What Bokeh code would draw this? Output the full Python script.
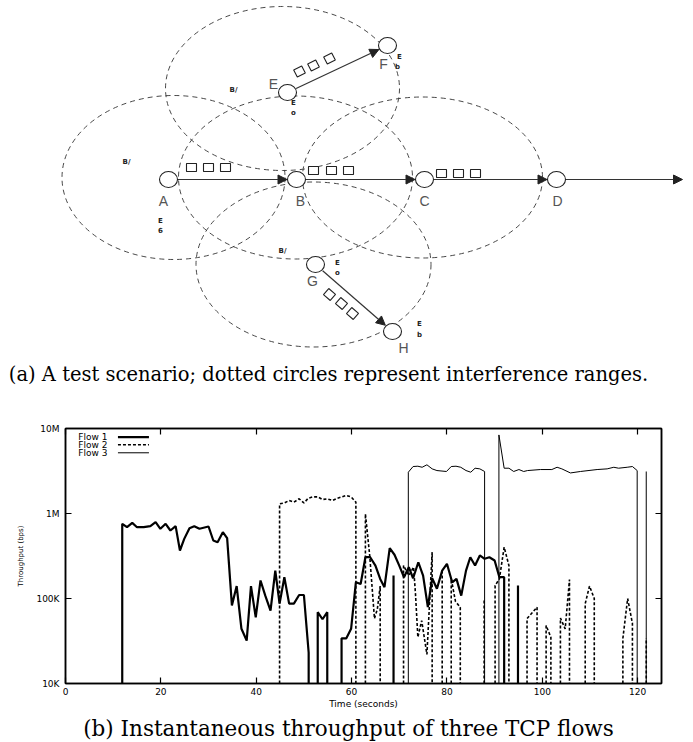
import numpy as np
from bokeh.plotting import figure
from bokeh.layouts import column
from bokeh.models import (Range1d, FixedTicker, LinearAxis, LogAxis, Arrow,
                          NormalHead, ColumnDataSource)
from bokeh.core.properties import value
from bokeh.embed import file_html
from bokeh.resources import INLINE

nan = float("nan")

# ---------------- (a) test scenario (page pixel coordinates) ----------------
node_names = ["A", "B", "C", "D", "E", "F", "G", "H"]
node_x = [168, 296, 424, 556, 287, 387, 315, 392]
node_y = [179, 179, 179, 179, 92, 45, 264, 331]
label_x = [163, 300, 424, 557, 273, 383, 312, 403]
label_y = [200, 200, 200, 200, 83, 63, 280, 347]

# interference ranges (dashed)
range_x = [173, 295, 422, 282, 313]
range_y = [177, 177, 177, 88, 264]
range_w = [223, 234, 240, 234, 235]
range_h = [164, 163, 161, 164, 165]

# links: source -> destination
link_src = ["A", "B", "C", "E", "G"]
link_dst = ["B", "C", "D", "F", "H"]
exit_src = "D"
exit_x = 682

# packets (queued frames) along links
packet_x = [191, 208, 225, 313, 331, 348, 441, 458, 475, 299, 313, 329, 329, 341, 352]
packet_y = [167, 167, 167, 170, 170, 170, 173, 173, 173, 71, 65, 58, 294, 303, 313]
packet_w = [10, 10, 10, 10, 10, 10, 10, 10, 10, 9, 9, 9, 9, 9, 9]
packet_h = [8, 8, 8, 8, 8, 8, 8, 8, 8, 8, 8, 8, 8, 8, 8]
packet_angle = [0, 0, 0, 0, 0, 0, 0, 0, 0, 27, 27, 27, -41, -41, -41]

# small garbled marks of the original drawing
mark_text = ["B/", "B/", "B/", "E", "o", "E", "b", "E", "6", "E", "o", "E", "b"]
mark_x = [233, 126, 282, 293, 293, 399, 397, 160, 160, 337, 337, 419, 419]
mark_y = [89, 161, 250, 102, 112, 56, 66, 220, 229, 262, 272, 323, 334]

caption_a = "(a) A test scenario; dotted circles represent interference ranges."
caption_b = "(b) Instantaneous throughput of three TCP flows"

# ---------------- (b) throughput data (time s, Kbps; NaN = gap) ----------------
flow1_t = [11.9, 11.9, 12.9, 14.0, 15.0, 16.4, 17.8, 18.9, 19.9, 21.0, 22.0, 23.1, 24.0, 24.9,
           26.0, 27.0, 28.1, 30.0, 31.0, 31.9, 33.0, 33.9, 34.9, 35.9, 36.9, 38.0, 38.9, 39.9,
           40.9, 41.9, 43.0, 44.0, 44.9, 45.9, 46.9, 47.9, 49.0, 50.0, 51.0, 51.0, nan,
           52.9, 52.9, 53.9, 54.9, 54.9, nan,
           57.9, 57.9, 58.9, 59.9, 60.9, 61.9, 62.9, 63.9, 65.0, 66.0, 66.9, 68.0, 69.0, 70.0,
           71.0, 72.0, 72.9, 74.0, 75.0, 76.0, 76.9, 77.9, 79.0, 80.0, 81.1, 82.0, 83.0, 84.0,
           84.9, 85.9, 86.9, 87.9, 88.9, 90.0, 91.0, 92.0, 92.0, nan,
           68.8, 68.8, nan, 94.9, 94.9]
flow1_k = [10, 757, 690, 776, 690, 690, 710, 790, 661, 757, 631, 710, 367, 503,
           671, 710, 661, 703, 481, 460, 603, 513, 83, 140, 44, 32, 140, 60,
           163, 108, 72, 213, 87, 178, 87, 87, 110, 110, 23, 10, nan,
           10, 69, 57, 69, 10, nan,
           10, 34, 34, 44, 155, 148, 306, 306, 244, 170, 136, 391, 327, 244,
           178, 234, 173, 267, 186, 79, 173, 130, 213, 256, 155, 170, 108, 213,
           306, 244, 321, 293, 306, 280, 178, 178, 10, nan,
           10, 186, nan, 10, 142]

flow2_t = [44.9, 44.9, 45.9, 46.9, 47.9, 49.0, 50.0, 50.9, 51.9, 52.9, 53.9, 54.9, 56.0, 57.0,
           58.0, 58.9, 59.9, 60.9, 60.9, nan,
           62.9, 62.9, 63.8, 64.8, 65.4, 66.0, 66.0, nan,
           70.9, 70.9, 72.0, 73.0, 73.4, 73.9, 74.7, 75.8, 76.9, 76.9, nan,
           79.0, 79.0, nan,
           80.9, 80.9, 81.8, 82.8, 82.8, nan,
           87.8, 87.8, nan,
           90.1, 90.1, 91.0, 92.0, 93.0, 93.0, nan,
           96.8, 96.8, 98.9, 98.9, nan,
           100.8, 100.8, 101.8, 101.8, nan,
           103.8, 103.8, 104.8, 105.7, 105.7, nan,
           109.0, 109.0, 109.9, 110.9, 110.9, nan,
           116.9, 116.9, 117.9, 118.9, 118.9, nan,
           121.8, 121.8]
flow2_k = [10, 1300, 1330, 1420, 1360, 1490, 1330, 1510, 1570, 1570, 1460, 1490, 1420, 1510,
           1570, 1630, 1570, 1360, 10, nan,
           10, 990, 321, 58, 75, 140, 10, nan,
           10, 244, 186, 234, 114, 35, 55, 22, 351, 10, nan,
           10, 213, nan,
           10, 170, 92, 79, 10, nan,
           10, 100, nan,
           10, 142, 170, 402, 244, 10, nan,
           10, 58, 79, 10, nan,
           10, 48, 35, 10, nan,
           10, 59, 44, 167, 10, nan,
           10, 87, 140, 100, 10, nan,
           10, 34, 100, 51, 10, nan,
           10, 34]

flow3_t = [71.9, 71.9, 72.9, 73.9, 74.8, 75.8, 76.9, 77.9, 79.9, 80.9, 81.9, 82.9, 84.0, 85.0,
           85.9, 86.9, 87.9, 87.9, nan,
           90.9, 90.9, 92.0, 93.0, 94.0, 95.1, 96.1, 96.9, 99.6, 102.0, 103.1, 104.1, 105.9,
           108.0, 111.5, 113.6, 115.0, 116.0, 117.8, 118.9, 119.9, 119.9, nan,
           121.8, 121.8]
flow3_k = [10, 3060, 3570, 3600, 3500, 3740, 3350, 3200, 3120, 3570, 3600, 3500, 3200, 3060,
           3410, 3350, 3120, 10, nan,
           10, 8400, 3410, 3410, 3120, 3290, 3120, 3200, 3290, 3290, 3500, 3350, 3000,
           3120, 3290, 3350, 3500, 3410, 3500, 3570, 3200, 10, nan,
           10, 3120]

flow_names = ["Flow 1", "Flow 2", "Flow 3"]
x_ticks = [0, 20, 40, 60, 80, 100, 120]
y_ticks = [1e4, 1e5, 1e6, 1e7]
y_tick_labels = ["10K", "100K", "1M", "10M"]

W = 693

# ======================= figure (a) =======================
pa = figure(width=W, height=393, x_range=Range1d(0, W), y_range=Range1d(393, 0),
            x_axis_type=None, y_axis_type=None, output_backend="svg",
            toolbar_location=None, min_border=0, outline_line_color=None,
            frame_align=False)

pa.ellipse(x=range_x, y=range_y, width=range_w, height=range_h, fill_color=None,
           line_color="#333333", line_width=0.9, line_dash="5 4")

pos = {n: (x, y) for n, x, y in zip(node_names, node_x, node_y)}
node_r = 9.5


def add_arrow(x0, y0, x1, y1):
    pa.add_layout(Arrow(end=NormalHead(size=9, fill_color="#222222", line_color="#222222",
                                       line_width=1),
                        x_start=x0, y_start=y0, x_end=x1, y_end=y1,
                        line_color="#333333", line_width=1.2))


for s, d in zip(link_src, link_dst):
    (sx, sy), (dx, dy) = pos[s], pos[d]
    L = np.hypot(dx - sx, dy - sy)
    ux, uy = (dx - sx) / L, (dy - sy) / L
    add_arrow(sx + node_r * ux, sy + node_r * uy, dx - node_r * ux, dy - node_r * uy)
ex, ey = pos[exit_src]
add_arrow(ex + node_r, ey, exit_x, ey)

pa.rect(x=packet_x, y=packet_y, width=packet_w, height=packet_h, angle=packet_angle,
        angle_units="deg", fill_color="white", line_color="#222222", line_width=1.1)

pa.ellipse(x=node_x, y=node_y, width=18, height=16, fill_color="white",
           line_color="#222222", line_width=1.1)

pa.text(x=label_x, y=label_y, text=node_names, text_font=value("Liberation Sans"),
        text_font_size="14px", text_color="#555555", text_align="center",
        text_baseline="middle")

pa.text(x=mark_x, y=mark_y, text=mark_text, text_font=value("DejaVu Sans"),
        text_font_size="7px", text_font_style="bold", text_color="#222222",
        text_align="center", text_baseline="middle")

pa.text(x=[328], y=[374], text=[caption_a], text_font=value("DejaVu Serif"),
        text_font_size="19.5px", text_color="black", text_align="center",
        text_baseline="alphabetic")

# ======================= figure (b) =======================
p = figure(width=W, height=319, x_range=Range1d(0, 125), y_range=Range1d(1e4, 1e7),
           y_axis_type="log", output_backend="svg", toolbar_location=None,
           min_border_left=65, min_border_right=32, min_border_top=35, min_border_bottom=29,
           frame_align=False)
p.grid.visible = False
p.outline_line_color = "black"
p.outline_line_width = 1.5

axis_font = "DejaVu Sans"

xa = p.xaxis[0]
xa.ticker = FixedTicker(ticks=x_ticks)
xa.axis_label = "Time (seconds)"
ya = p.yaxis[0]
ya.ticker = FixedTicker(ticks=y_ticks)
ya.major_label_overrides = {int(v): s for v, s in zip(y_ticks, y_tick_labels)}
ya.axis_label = "Throughput (bps)"

for ax in (xa, ya):
    ax.major_tick_in = 6
    ax.major_tick_out = 0
    ax.minor_tick_line_color = None
    ax.axis_line_width = 1.5
    ax.major_tick_line_width = 1.2
    ax.major_label_text_font = axis_font
    ax.major_label_text_font_size = "9px"
    ax.major_label_text_color = "black"
    ax.axis_label_text_font = axis_font
    ax.axis_label_text_font_style = "normal"
    ax.axis_label_text_color = "black"
xa.major_label_standoff = 4
xa.axis_label_standoff = 1
xa.axis_label_text_font_size = "9px"
ya.major_label_standoff = 6
ya.axis_label_standoff = 8
ya.axis_label_text_font_size = "7px"

top = LinearAxis(ticker=FixedTicker(ticks=x_ticks))
right = LogAxis(ticker=FixedTicker(ticks=y_ticks))
for ax in (top, right):
    ax.major_tick_in = 6
    ax.major_tick_out = 0
    ax.minor_tick_line_color = None
    ax.major_label_text_font_size = "0px"
    ax.major_label_text_color = None
    ax.axis_line_width = 1.5
    ax.major_tick_line_width = 1.2
p.add_layout(top, "above")
p.add_layout(right, "right")

src1 = ColumnDataSource(dict(t=np.array(flow1_t, float), v=np.array(flow1_k, float) * 1000))
src2 = ColumnDataSource(dict(t=np.array(flow2_t, float), v=np.array(flow2_k, float) * 1000))
src3 = ColumnDataSource(dict(t=np.array(flow3_t, float), v=np.array(flow3_k, float) * 1000))

styles = [dict(line_width=2.2, line_dash="solid"),
          dict(line_width=1.6, line_dash="3 2"),
          dict(line_width=1.0, line_dash="solid")]

p.line("t", "v", source=src2, line_color="black", **styles[1])
p.line("t", "v", source=src3, line_color="black", **styles[2])
p.line("t", "v", source=src1, line_color="black", **styles[0])

# key (gnuplot style: label then sample line), in data coordinates
key_text_x = 2.7
key_line_x0, key_line_x1 = 11.0, 17.5
key_y = [7.9e6, 6.43e6, 5.18e6]
p.text(x=[key_text_x] * 3, y=key_y, text=flow_names, text_font=value(axis_font),
       text_font_size="9px", text_color="black", text_align="left",
       text_baseline="middle")
for ky, st in zip(key_y, styles):
    p.line([key_line_x0, key_line_x1], [ky, ky], line_color="black", **st)

# ======================= caption (b) =======================
pc = figure(width=W, height=30, x_range=Range1d(0, W), y_range=Range1d(742, 712),
            x_axis_type=None, y_axis_type=None, output_backend="svg",
            toolbar_location=None, min_border=0, outline_line_color=None,
            frame_align=False)
pc.text(x=[348], y=[728], text=[caption_b], text_font=value("DejaVu Serif"),
        text_font_size="21.5px", text_color="black", text_align="center",
        text_baseline="alphabetic")

layout = column(pa, p, pc)
open("out.html", "w").write(file_html(layout, INLINE))
